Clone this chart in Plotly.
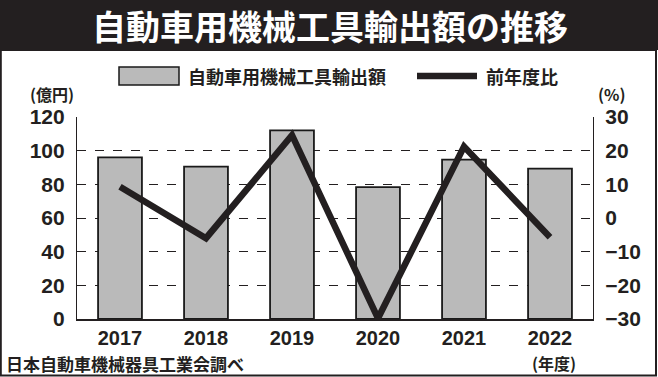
import plotly.graph_objects as go

years = ["2017", "2018", "2019", "2020", "2021", "2022"]
export_amount = [96, 90.5, 112, 78.4, 94.7, 89.3]   # 億円
yoy_change = [9.3, -6.0, 24.6, -29.8, 21.2, -5.7]   # %

W, H = 658, 377
L, R, T, B = 77, 593, 117, 319  # plot area in px

def px(x):
    return (x - L) / (R - L)

def py(y):
    return (B - y) / (B - T)

NUM_FONT = "Liberation Sans, Arial, sans-serif"
JP_FONT = "Noto Sans CJK JP, sans-serif"

fig = go.Figure()
fig.add_trace(go.Bar(
    x=years, y=export_amount, name="自動車用機械工具輸出額",
    marker=dict(color="#bababa", line=dict(color="#1a1a1a", width=1.8)),
    width=0.51, yaxis="y",
))
fig.add_trace(go.Scatter(
    x=years, y=yoy_change, name="前年度比", mode="lines",
    line=dict(color="#231f20", width=6.5), yaxis="y2",
))

shapes = [
    # title band
    dict(type="rect", xref="paper", yref="paper", x0=px(0), x1=px(W), y0=py(0), y1=py(50),
         fillcolor="#231f20", line=dict(width=0), layer="below"),
    # outer border
    dict(type="rect", xref="paper", yref="paper", x0=px(0.8), x1=px(W - 2), y0=py(50), y1=py(H - 1.5),
         fillcolor="rgba(0,0,0,0)", line=dict(color="#231f20", width=2)),
    # legend swatch
    dict(type="rect", xref="paper", yref="paper", x0=px(119), x1=px(179), y0=py(67), y1=py(85),
         fillcolor="#bababa", line=dict(color="#1a1a1a", width=1.5)),
    # legend line
    dict(type="line", xref="paper", yref="paper", x0=px(417), x1=px(477), y0=py(76), y1=py(76),
         line=dict(color="#231f20", width=6.5)),
]

annotations = [
    dict(text="<b>自動車用機械工具輸出額の推移</b>", x=px(330), y=py(25), xref="paper", yref="paper",
         showarrow=False, font=dict(family=JP_FONT, size=34, color="white"), xanchor="center", yanchor="middle"),
    dict(text="<b>自動車用機械工具輸出額</b>", x=px(186), y=py(76), xref="paper", yref="paper",
         showarrow=False, font=dict(family=JP_FONT, size=18, color="#231f20"), xanchor="left", yanchor="middle"),
    dict(text="<b>前年度比</b>", x=px(484), y=py(76), xref="paper", yref="paper",
         showarrow=False, font=dict(family=JP_FONT, size=18, color="#231f20"), xanchor="left", yanchor="middle"),
    dict(text="<b>(億円)</b>", x=px(52), y=py(94), xref="paper", yref="paper",
         showarrow=False, font=dict(family=JP_FONT, size=16, color="#231f20"), xanchor="center", yanchor="middle"),
    dict(text="<b>(%)</b>", x=px(612), y=py(94), xref="paper", yref="paper",
         showarrow=False, font=dict(family=JP_FONT, size=16, color="#231f20"), xanchor="center", yanchor="middle"),
    dict(text="<b>日本自動車機械器具工業会調べ</b>", x=px(4), y=py(363), xref="paper", yref="paper",
         showarrow=False, font=dict(family=JP_FONT, size=17, color="#231f20"), xanchor="left", yanchor="middle"),
    dict(text="<b>(年度)</b>", x=px(554), y=py(363), xref="paper", yref="paper",
         showarrow=False, font=dict(family=JP_FONT, size=16, color="#231f20"), xanchor="center", yanchor="middle"),
]

fig.update_layout(
    width=W, height=H,
    margin=dict(l=L, r=W - R, t=T, b=H - B, pad=0),
    paper_bgcolor="white", plot_bgcolor="white",
    showlegend=False,
    bargap=0.49,
    shapes=shapes, annotations=annotations,
    xaxis=dict(
        type="category", showline=True, linecolor="#231f20", linewidth=1.5,
        ticks="", showgrid=False,
        tickfont=dict(family=NUM_FONT, size=20, color="#231f20", weight="bold"),
        ticklabelstandoff=0,
    ),
    yaxis=dict(
        range=[0, 120], dtick=20, showline=True, linecolor="#231f20", linewidth=1.2,
        showgrid=True, gridcolor="#231f20", gridwidth=1, griddash="dash",
        ticks="", zeroline=False,
        tickfont=dict(family=NUM_FONT, size=21, color="#231f20", weight="bold"),
        ticklabelstandoff=7,
    ),
    yaxis2=dict(
        range=[-30, 30], dtick=10, overlaying="y", side="right",
        showline=True, linecolor="#231f20", linewidth=1.2,
        showgrid=False, zeroline=False, ticks="",
        tickfont=dict(family=NUM_FONT, size=21, color="#231f20", weight="bold"),
        ticklabelstandoff=7,
    ),
)

fig.write_html("out.html")
